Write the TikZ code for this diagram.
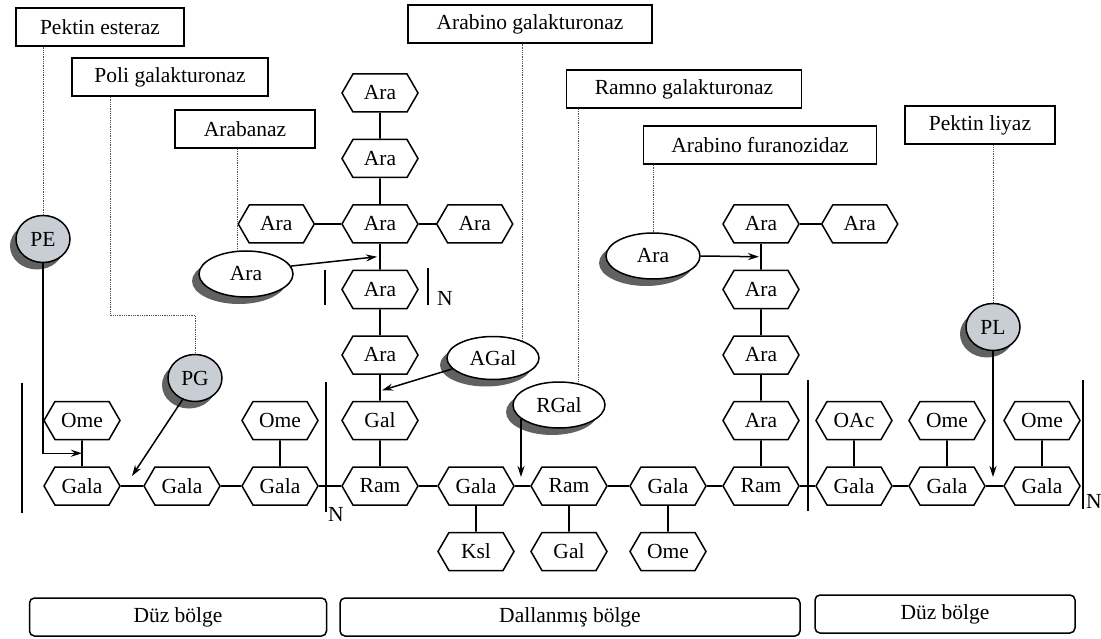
\documentclass[tikz,border=0pt]{standalone}
\usepackage{fontspec}
\setmainfont{Liberation Serif}
\usetikzlibrary{shapes.symbols,shapes.geometric,shadows,arrows.meta,positioning,calc}
\definecolor{enzgray}{RGB}{201,205,212}
\definecolor{shadowgray}{RGB}{95,98,96}

\begin{document}
\begin{tikzpicture}[
        x=1pt, y=-1pt,
        every node/.style={font=\fontsize{21.5}{25}\selectfont, line width=1.5pt},
        hexa/.style={draw, signal, signal to=west and east, signal pointer angle=120,
            minimum width=76pt, minimum height=38pt, inner sep=0pt, fill=white},
        enzyme/.style={draw, ellipse, fill=enzgray, minimum width=54pt, minimum height=47pt, inner sep=0pt,
            drop shadow={shadow xshift=-6pt, shadow yshift=-7pt, fill=shadowgray, opacity=1}},
        subst/.style={draw, ellipse, fill=white, minimum width=94pt, minimum height=46pt, inner sep=0pt,
            drop shadow={shadow xshift=-7pt, shadow yshift=-7pt, fill=shadowgray, opacity=1}},
        tag/.style={draw, rectangle, minimum height=38pt, inner sep=0pt, fill=white},
        region/.style={draw, rounded corners=5pt, minimum height=38pt, inner sep=0pt},
        plain/.style={inner sep=0pt},
        link/.style={line width=1.8pt},
        arr/.style={line width=1.5pt, -{Stealth[length=11pt, width=7pt]}},
        dots/.style={densely dotted, line width=0.8pt, black!70},
        bar/.style={line width=1.9pt},
        node distance=26pt,
    ]
    \useasboundingbox (0,0) rectangle (1101,639);

    % main chain
    \node[hexa] (gala1) at (82,486) {Gala};
    \node[hexa] (gala2) at (182,486) {Gala};
    \node[hexa] (gala3) at (280,486) {Gala};
    \node[hexa] (ram1) at (380,486) {Ram};
    \node[hexa] (gala4) at (476,486) {Gala};
    \node[hexa] (ram2) at (569,486) {Ram};
    \node[hexa] (gala5) at (668,486) {Gala};
    \node[hexa] (ram3) at (761,486) {Ram};
    \node[hexa] (gala6) at (854,486) {Gala};
    \node[hexa] (gala7) at (947,486) {Gala};
    \node[hexa] (gala8) at (1042,486) {Gala};

    % side groups
    \node[hexa, above=of gala1] (ome1) {Ome};
    \node[hexa, above=of gala3] (ome2) {Ome};
    \node[hexa, above=of gala6] (oac) {OAc};
    \node[hexa, above=of gala7] (ome3) {Ome};
    \node[hexa, above=of gala8] (ome4) {Ome};
    \node[hexa, below=of gala4] (ksl) {Ksl};
    \node[hexa, below=of ram2] (gal2) {Gal};
    \node[hexa, below=of gala5] (ome5) {Ome};

    % branch on first Ram
    \node[hexa, above=of ram1] (gal1) {Gal};
    \node[hexa, above=of gal1] (ara5) {Ara};
    \node[hexa, above=of ara5] (ara4) {Ara};
    \node[hexa, above=of ara4] (ara3) {Ara};
    \node[hexa, above=of ara3] (ara2) {Ara};
    \node[hexa, above=of ara2] (ara1) {Ara};
    \node[hexa, left=26pt of ara3] (ara3l) {Ara};
    \node[hexa, right=17pt of ara3] (ara3r) {Ara};

    % branch on third Ram
    \node[hexa, above=of ram3] (arb1) {Ara};
    \node[hexa, above=of arb1] (arb2) {Ara};
    \node[hexa, above=of arb2] (arb3) {Ara};
    \node[hexa, above=of arb3] (arb4) {Ara};
    \node[hexa, right=21pt of arb4] (arb4r) {Ara};

    % enzymes
    \node[enzyme] (pe) at (43,239) {PE};
    \node[enzyme] (pg) at (195,378) {PG};
    \node[enzyme] (pl) at (993,327) {PL};
    \node[subst] (aral) at (246,274) {Ara};
    \node[subst] (arar) at (653,256) {Ara};
    \node[subst, minimum width=92pt, minimum height=43pt] (agal) at (493,358) {AGal};
    \node[subst, minimum width=92pt] (rgal) at (559,405) {RGal};

    % enzyme names
    \node[tag, minimum width=168pt] (pest) at (100,27) {Pektin esteraz};
    \node[tag, minimum width=196pt] (pgal) at (170,77) {Poli galakturonaz};
    \node[tag, minimum width=140pt] (arab) at (245,129) {Arabanaz};
    \node[tag, minimum width=244pt] (agalt) at (530,24) {Arabino galakturonaz};
    \node[tag, minimum width=235pt] (rgalt) at (684,89) {Ramno galakturonaz};
    \node[tag, minimum width=233pt] (afur) at (760,145) {Arabino furanozidaz};
    \node[tag, minimum width=150pt] (pliy) at (980,125) {Pektin liyaz};

    % regions
    \node[region, minimum width=297pt] (duz1) at (178,617) {Düz bölge};
    \node[region, minimum width=460pt] (dal) at (570,617) {Dallanmış bölge};
    \node[region, minimum width=260pt] (duz2) at (945,614) {Düz bölge};

    % repeat marks
    \node[plain] (n1) at (336,514) {N};
    \node[plain] (n2) at (445,298) {N};
    \node[plain] (n3) at (1094,501) {N};
    \draw[bar] (22,383) -- (22,513);
    \draw[bar] (326,382) -- (326,512);
    \draw[bar] (325,270) -- (325,305);
    \draw[bar] (428,268) -- (428,305);
    \draw[bar] (808,380) -- (808,511);
    \draw[bar] (1083,380) -- (1083,509);

    % links
    \draw[link] (gala1) -- (gala2) (gala2) -- (gala3) (gala3) -- (ram1) (ram1) -- (gala4)
        (gala4) -- (ram2) (ram2) -- (gala5) (gala5) -- (ram3) (ram3) -- (gala6)
        (gala6) -- (gala7) (gala7) -- (gala8);
    \draw[link] (ome1) -- (gala1) (ome2) -- (gala3) (oac) -- (gala6) (ome3) -- (gala7)
        (ome4) -- (gala8) (ksl) -- (gala4) (gal2) -- (ram2) (ome5) -- (gala5);
    \draw[link] (ram1) -- (gal1) (gal1) -- (ara5) (ara5) -- (ara4) (ara4) -- (ara3)
        (ara3) -- (ara2) (ara2) -- (ara1) (ara3l) -- (ara3) (ara3) -- (ara3r);
    \draw[link] (ram3) -- (arb1) (arb1) -- (arb2) (arb2) -- (arb3) (arb3) -- (arb4)
        (arb4) -- (arb4r);

    % dotted leaders
    \coordinate (pgbend) at (110,315);
    \draw[dots] (pe.north) -- (pe.north |- pest.south);
    \draw[dots] (pgal.south -| pgbend) -- (pgbend) -| (pg.north);
    \draw[dots] (aral.110) -- (aral.110 |- arab.south);
    \draw[dots] (agal.30) -- (agal.30 |- agalt.south);
    \draw[dots] (rgal.48) -- (rgal.48 |- rgalt.south);
    \draw[dots] (arar.north) -- (arar.north |- afur.south);
    \draw[dots] (pl.north) -- (pl.north |- pliy.south);

    % attacks
    \draw[arr] (pe.south) |- ($(ome1.south)!.5!(gala1.north)$);
    \draw[arr] (pg.240) -- ($(gala1.east)!.5!(gala2.west)+(0,-10)$);
    \draw[arr] (aral.10) -- ($(ara3.south)!.5!(ara4.north)+(-3,0)$);
    \draw[arr] (agal.195) -- ($(ara5.south)!.6!(gal1.north)+(2,0)$);
    \draw[arr] (rgal.200) -- ($(rgal.200 |- gala4.east)+(0,-9)$);
    \draw[arr] (arar.east) -- ($(arb4.south)!.5!(arb3.north)+(-2,0)$);
    \draw[arr] (pl.south) -- ($(pl.south |- gala8.west)+(0,-9)$);
\end{tikzpicture}
\end{document}
